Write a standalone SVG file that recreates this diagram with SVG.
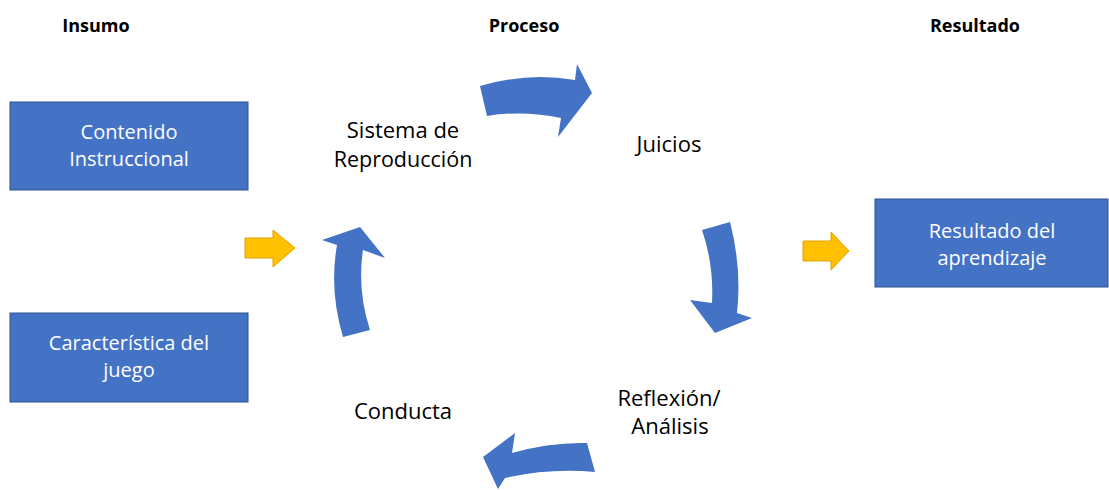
<svg xmlns="http://www.w3.org/2000/svg" width="1109" height="490" viewBox="0 0 1109 490">
<style>
.box{fill:#4472C4;stroke:#2F528F;stroke-width:1}
.bt{font-family:"Open Sans","Liberation Sans",sans-serif;font-size:20px;fill:#FFFFFF;text-anchor:middle}
.lbl{font-family:"Open Sans","Liberation Sans",sans-serif;font-size:22px;fill:#000000;text-anchor:middle}
.hd{font-family:"Open Sans","Liberation Sans",sans-serif;font-size:18px;font-weight:bold;fill:#000000;text-anchor:middle}
.cyc{fill:#4472C4}
.yel{fill:#FFC000;stroke:#E0A200;stroke-width:1}
</style>
<rect width="1109" height="490" fill="#FFFFFF"/>
<g id="headers">
<text class="hd" x="96" y="32">Insumo</text>
<text class="hd" x="524" y="32">Proceso</text>
<text class="hd" x="975" y="32">Resultado</text>
</g>
<g id="node-contenido">
<rect class="box" x="10" y="102" width="238" height="88"/>
<text class="bt"><tspan x="129" y="139">Contenido</tspan><tspan x="129" y="166">Instruccional</tspan></text>
</g>
<g id="node-caracteristica">
<rect class="box" x="10" y="313" width="238" height="89"/>
<text class="bt"><tspan x="129" y="350">Característica del</tspan><tspan x="129" y="377">juego</tspan></text>
</g>
<g id="node-resultado">
<rect class="box" x="875" y="199" width="233" height="88"/>
<text class="bt"><tspan x="992" y="238">Resultado del</tspan><tspan x="992" y="265">aprendizaje</tspan></text>
</g>
<g id="node-sistema">
<text class="lbl"><tspan x="403" y="138">Sistema de</tspan><tspan x="403" y="167" style="font-size:21.5px">Reproducción</tspan></text>
</g>
<g id="node-juicios">
<text class="lbl" x="669" y="152">Juicios</text>
</g>
<g id="node-reflexion">
<text class="lbl"><tspan x="669" y="406">Reflexión/</tspan><tspan x="670" y="434">Análisis</tspan></text>
</g>
<g id="node-conducta">
<text class="lbl" x="403" y="419">Conducta</text>
</g>
<g id="connectors">
<path class="cyc" d="M480 86 Q527 72 575 80 L577 64 L592 93 L558 137 L561 118 Q524 110 487 116 Z"/>
<path class="cyc" d="M702 230 L730 222 Q742 268 737 313 L752 318 L715 333 L690 300 L712 303 Q714 265 702 230 Z"/>
<path class="cyc" d="M587 443 L595 472 Q550 468 505 478 L498 489 L483 457 L515 433 L512 453 Q550 442 587 443 Z"/>
<path class="cyc" d="M343 337 Q329 290 337 245 L322 240 L360 227 L385 258 L363 250 Q357 290 370 330 Z"/>
<path class="yel" d="M245 238 L273 238 L273 230 L295 248 L273 267 L273 258 L245 258 Z"/>
<path class="yel" d="M803 241 L831 241 L831 232 L849 251 L831 270 L831 261 L803 261 Z"/>
</g>
</svg>
